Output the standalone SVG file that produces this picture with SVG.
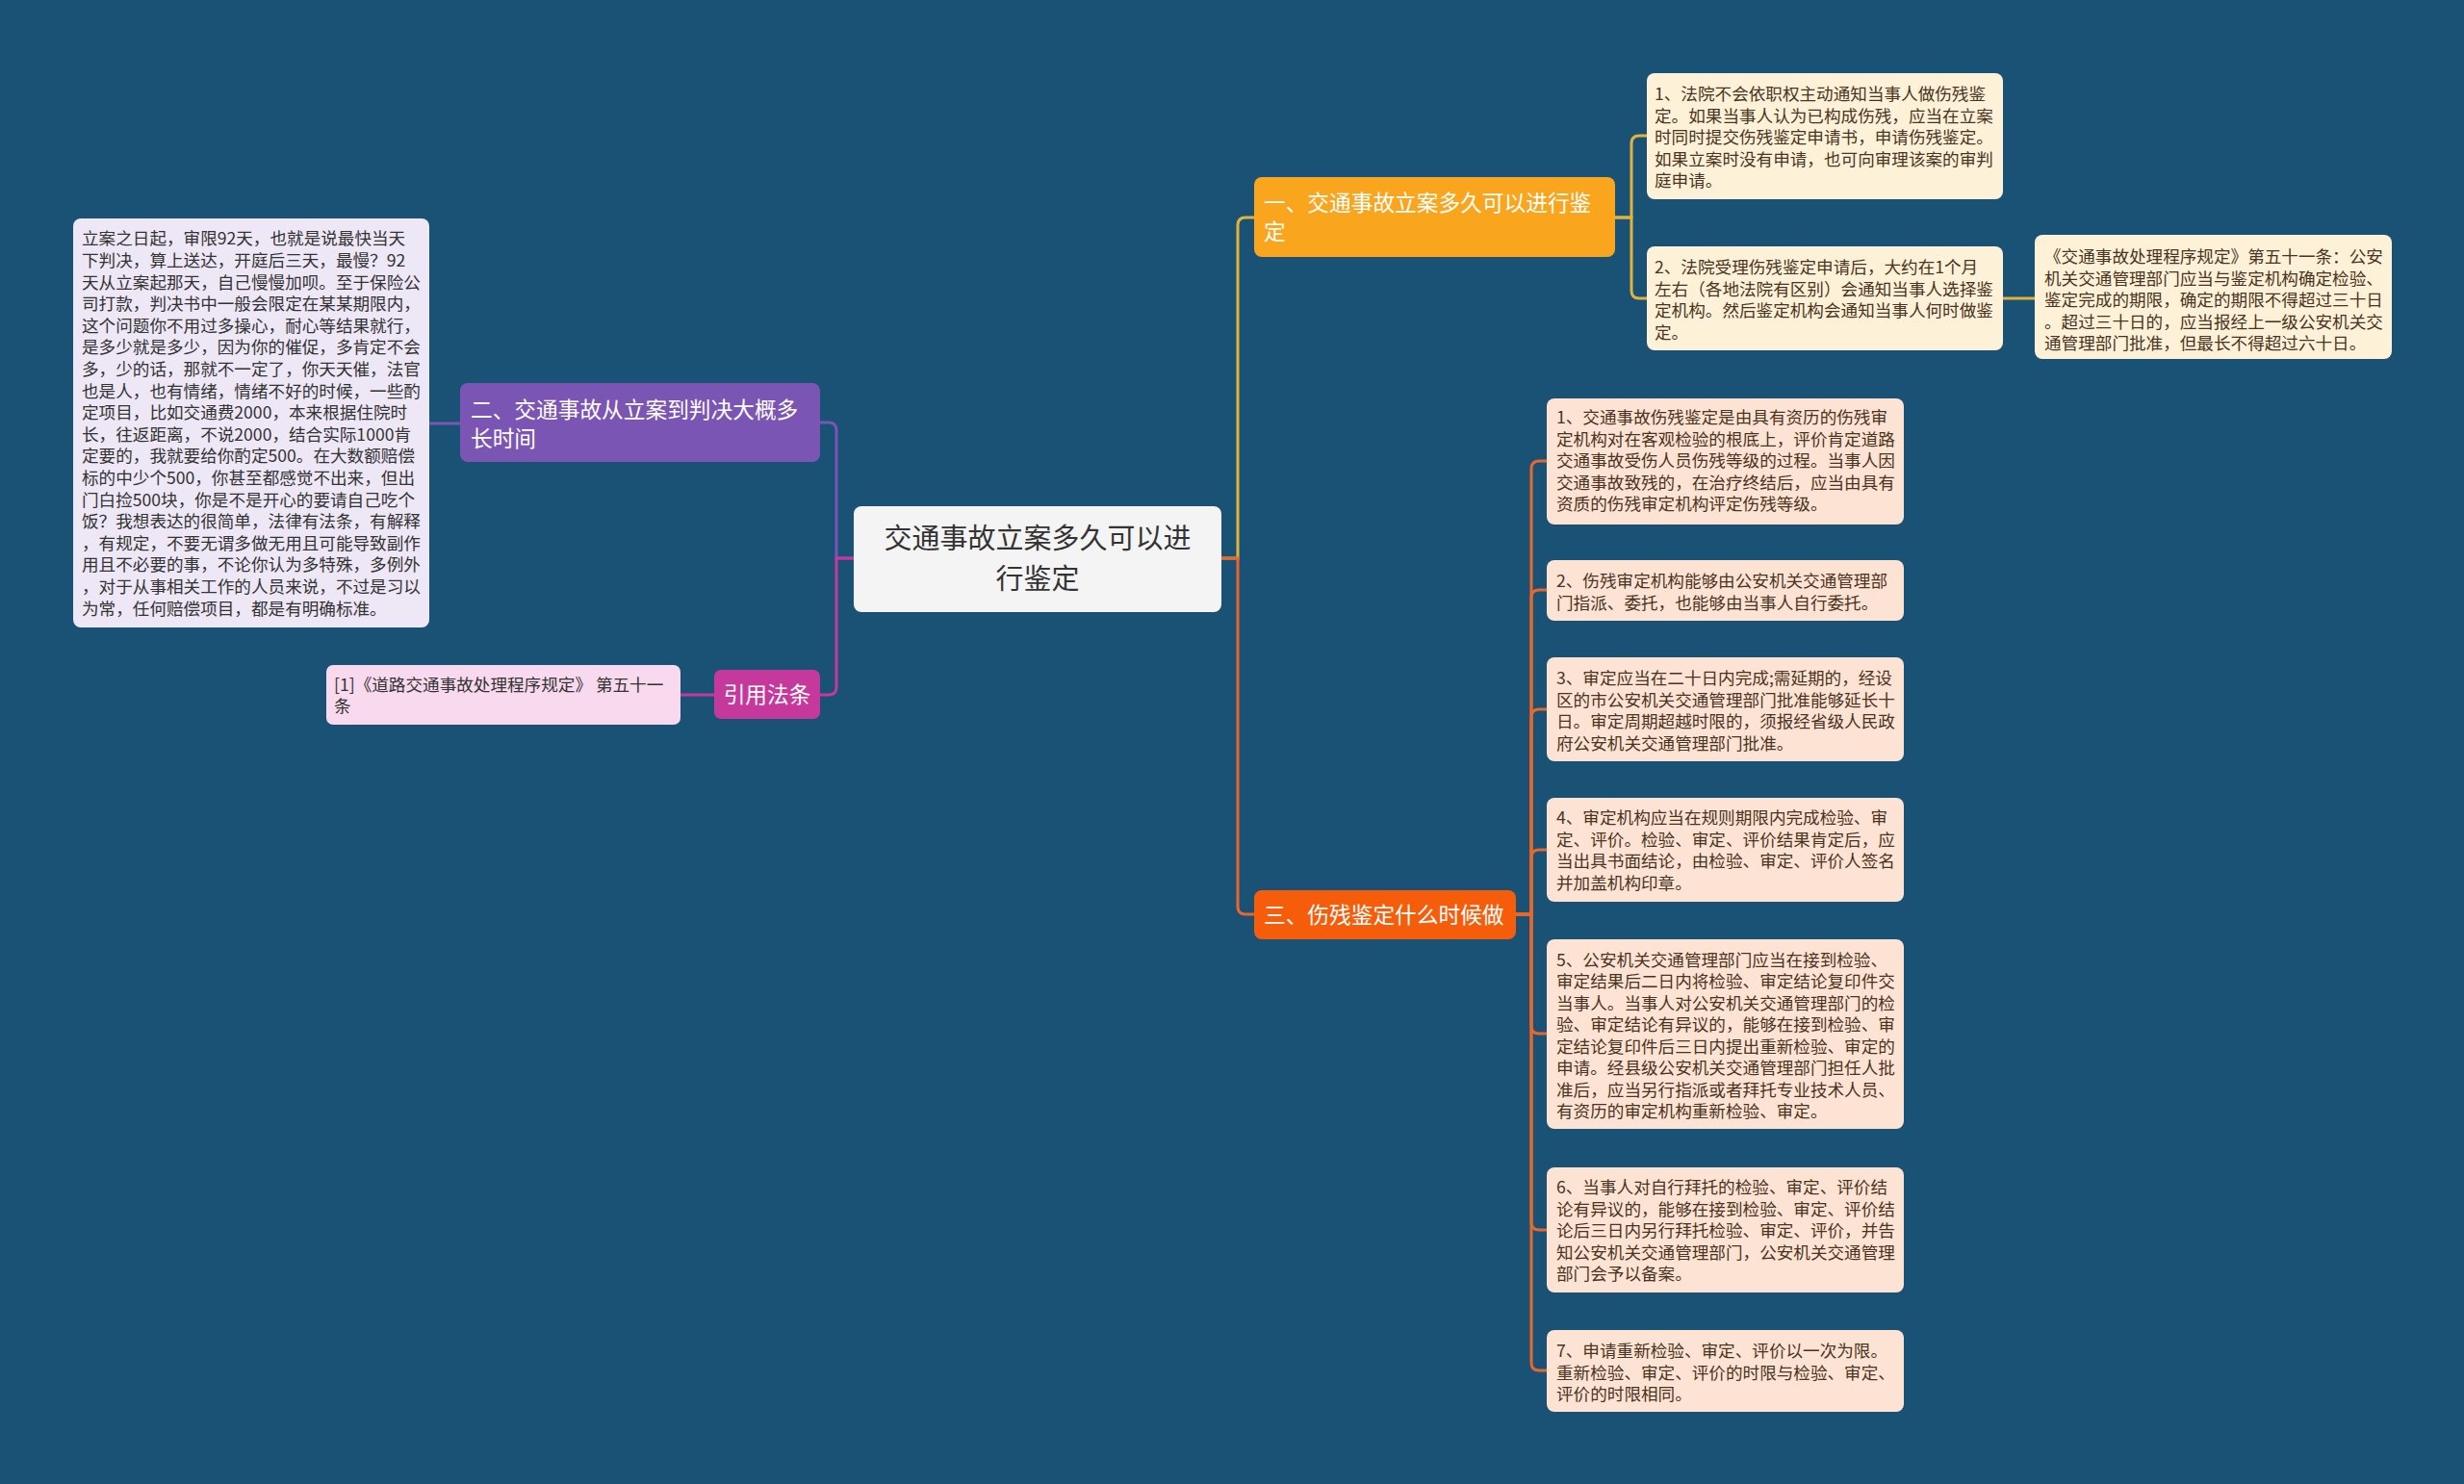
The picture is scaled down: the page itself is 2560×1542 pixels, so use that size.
<svg xmlns="http://www.w3.org/2000/svg" width="2560" height="1542" viewBox="0 0 2560 1542">
<style>
text{font-family:"Noto Sans CJK SC","Noto Sans",sans-serif;}
.s{font-size:17.6px;fill:#4a3421;}
.sl{font-size:17.6px;fill:#333;}
.b{font-size:22.7px;fill:#fff;}
.c{font-size:29px;fill:#333;}
.cn{fill:none;stroke-width:3;stroke-linecap:round;}
.gold{stroke:#e2b23c;}
.org{stroke:#e8672a;}
.pur{stroke:#7b55b3;}
.mag{stroke:#c6399c;}
</style>
<rect x="0" y="0" width="2560" height="1542" fill="#1a5276"/>
<g id="connectors">
<path class="cn pur" d="M887 580 H869 V447 Q869 439 861 439 H852"/>
<path class="cn mag" d="M887 580 H869 V714 Q869 722 861 722 H852"/>
<path class="cn pur" d="M478 440 H446"/>
<path class="cn mag" d="M742 722 H707"/>
<path class="cn gold" d="M1269 580 H1286 V234 Q1286 226 1294 226 H1303"/>
<path class="cn org" d="M1269 580 H1286 V942 Q1286 950 1294 950 H1303"/>
<path class="cn gold" d="M1678 226 H1695 V149 Q1695 141 1703 141 H1711"/>
<path class="cn gold" d="M1678 226 H1695 V302 Q1695 310 1703 310 H1711"/>
<path class="cn gold" d="M2081 310 H2114"/>
<path class="cn org" d="M1575 950 H1591 V487 Q1591 479 1599 479 H1607"/>
<path class="cn org" d="M1575 950 H1591 V621 Q1591 613 1599 613 H1607"/>
<path class="cn org" d="M1575 950 H1591 V745 Q1591 737 1599 737 H1607"/>
<path class="cn org" d="M1575 950 H1591 V891 Q1591 883 1599 883 H1607"/>
<path class="cn org" d="M1575 950 H1591 V1066 Q1591 1074 1599 1074 H1607"/>
<path class="cn org" d="M1575 950 H1591 V1270 Q1591 1278 1599 1278 H1607"/>
<path class="cn org" d="M1575 950 H1591 V1416 Q1591 1424 1599 1424 H1607"/>
</g>
<g id="center">
<rect x="887" y="526" width="382" height="110" rx="8" fill="#f4f4f4"/>
<text class="c" x="1078" y="570" text-anchor="middle">交通事故立案多久可以进</text>
<text class="c" x="1078" y="612" text-anchor="middle">行鉴定</text>
</g>
<g id="branch2">
<rect x="478" y="398" width="374" height="82" rx="8" fill="#7b55b3"/>
<text class="b" x="489" y="433.6">二、交通事故从立案到判决大概多</text>
<text class="b" x="489" y="463.6">长时间</text>
</g>
<g id="branch2-detail">
<rect x="76" y="227" width="370" height="425" rx="8" fill="#ede7f6"/>
<text class="sl" x="85" y="254.4">立案之日起，审限92天，也就是说最快当天</text>
<text class="sl" x="85" y="277">下判决，算上送达，开庭后三天，最慢？92</text>
<text class="sl" x="85" y="299.6">天从立案起那天，自己慢慢加呗。至于保险公</text>
<text class="sl" x="85" y="322.2">司打款，判决书中一般会限定在某某期限内，</text>
<text class="sl" x="85" y="344.8">这个问题你不用过多操心，耐心等结果就行，</text>
<text class="sl" x="85" y="367.4">是多少就是多少，因为你的催促，多肯定不会</text>
<text class="sl" x="85" y="390">多，少的话，那就不一定了，你天天催，法官</text>
<text class="sl" x="85" y="412.6">也是人，也有情绪，情绪不好的时候，一些酌</text>
<text class="sl" x="85" y="435.2">定项目，比如交通费2000，本来根据住院时</text>
<text class="sl" x="85" y="457.8">长，往返距离，不说2000，结合实际1000肯</text>
<text class="sl" x="85" y="480.4">定要的，我就要给你酌定500。在大数额赔偿</text>
<text class="sl" x="85" y="503">标的中少个500，你甚至都感觉不出来，但出</text>
<text class="sl" x="85" y="525.6">门白捡500块，你是不是开心的要请自己吃个</text>
<text class="sl" x="85" y="548.2">饭？我想表达的很简单，法律有法条，有解释</text>
<text class="sl" x="85" y="570.8">，有规定，不要无谓多做无用且可能导致副作</text>
<text class="sl" x="85" y="593.4">用且不必要的事，不论你认为多特殊，多例外</text>
<text class="sl" x="85" y="616">，对于从事相关工作的人员来说，不过是习以</text>
<text class="sl" x="85" y="638.6">为常，任何赔偿项目，都是有明确标准。</text>
</g>
<g id="cite">
<rect x="742" y="696" width="110" height="51" rx="7" fill="#c6399c"/>
<text class="b" x="797" y="730.3" text-anchor="middle">引用法条</text>
</g>
<g id="cite-detail">
<rect x="339" y="691" width="368" height="62" rx="7" fill="#f8d9ee"/>
<text class="sl" x="347" y="718.4">[1]《道路交通事故处理程序规定》 第五十一</text>
<text class="sl" x="347" y="739.7">条</text>
</g>
<g id="branch1">
<rect x="1303" y="184" width="375" height="83" rx="8" fill="#f9a51d"/>
<text class="b" x="1313" y="218.6">一、交通事故立案多久可以进行鉴</text>
<text class="b" x="1313" y="248.6">定</text>
</g>
<g id="b1-c1">
<rect x="1711" y="76" width="370" height="131" rx="8" fill="#fdf1d8"/>
<text class="s" x="1719" y="104">1、法院不会依职权主动通知当事人做伤残鉴</text>
<text class="s" x="1719" y="126.5">定。如果当事人认为已构成伤残，应当在立案</text>
<text class="s" x="1719" y="149">时同时提交伤残鉴定申请书，申请伤残鉴定。</text>
<text class="s" x="1719" y="171.5">如果立案时没有申请，也可向审理该案的审判</text>
<text class="s" x="1719" y="194">庭申请。</text>
</g>
<g id="b1-c2">
<rect x="1711" y="256" width="370" height="108" rx="8" fill="#fdf1d8"/>
<text class="s" x="1719" y="284">2、法院受理伤残鉴定申请后，大约在1个月</text>
<text class="s" x="1719" y="306.5">左右（各地法院有区别）会通知当事人选择鉴</text>
<text class="s" x="1719" y="329">定机构。然后鉴定机构会通知当事人何时做鉴</text>
<text class="s" x="1719" y="351.5">定。</text>
</g>
<g id="b1-c2-detail">
<rect x="2114" y="244" width="371" height="129" rx="8" fill="#fdf1d8"/>
<text class="s" x="2124" y="273">《交通事故处理程序规定》第五十一条：公安</text>
<text class="s" x="2124" y="295.5">机关交通管理部门应当与鉴定机构确定检验、</text>
<text class="s" x="2124" y="318">鉴定完成的期限，确定的期限不得超过三十日</text>
<text class="s" x="2124" y="340.5">。超过三十日的，应当报经上一级公安机关交</text>
<text class="s" x="2124" y="363">通管理部门批准，但最长不得超过六十日。</text>
</g>
<g id="branch3">
<rect x="1303" y="925" width="272" height="51" rx="8" fill="#f65d0a"/>
<text class="b" x="1313" y="958.6">三、伤残鉴定什么时候做</text>
</g>
<g id="b3-c1">
<rect x="1607" y="414" width="371" height="131" rx="8" fill="#fde3d3"/>
<text class="s" x="1617" y="440">1、交通事故伤残鉴定是由具有资历的伤残审</text>
<text class="s" x="1617" y="462.5">定机构对在客观检验的根底上，评价肯定道路</text>
<text class="s" x="1617" y="485">交通事故受伤人员伤残等级的过程。当事人因</text>
<text class="s" x="1617" y="507.5">交通事故致残的，在治疗终结后，应当由具有</text>
<text class="s" x="1617" y="530">资质的伤残审定机构评定伤残等级。</text>
</g>
<g id="b3-c2">
<rect x="1607" y="582" width="371" height="63" rx="8" fill="#fde3d3"/>
<text class="s" x="1617" y="610">2、伤残审定机构能够由公安机关交通管理部</text>
<text class="s" x="1617" y="632.5">门指派、委托，也能够由当事人自行委托。</text>
</g>
<g id="b3-c3">
<rect x="1607" y="683" width="371" height="108" rx="8" fill="#fde3d3"/>
<text class="s" x="1617" y="711">3、审定应当在二十日内完成;需延期的，经设</text>
<text class="s" x="1617" y="733.5">区的市公安机关交通管理部门批准能够延长十</text>
<text class="s" x="1617" y="756">日。审定周期超越时限的，须报经省级人民政</text>
<text class="s" x="1617" y="778.5">府公安机关交通管理部门批准。</text>
</g>
<g id="b3-c4">
<rect x="1607" y="829" width="371" height="108" rx="8" fill="#fde3d3"/>
<text class="s" x="1617" y="856">4、审定机构应当在规则期限内完成检验、审</text>
<text class="s" x="1617" y="878.5">定、评价。检验、审定、评价结果肯定后，应</text>
<text class="s" x="1617" y="901">当出具书面结论，由检验、审定、评价人签名</text>
<text class="s" x="1617" y="923.5">并加盖机构印章。</text>
</g>
<g id="b3-c5">
<rect x="1607" y="976" width="371" height="197" rx="8" fill="#fde3d3"/>
<text class="s" x="1617" y="1003.5">5、公安机关交通管理部门应当在接到检验、</text>
<text class="s" x="1617" y="1026">审定结果后二日内将检验、审定结论复印件交</text>
<text class="s" x="1617" y="1048.5">当事人。当事人对公安机关交通管理部门的检</text>
<text class="s" x="1617" y="1071">验、审定结论有异议的，能够在接到检验、审</text>
<text class="s" x="1617" y="1093.5">定结论复印件后三日内提出重新检验、审定的</text>
<text class="s" x="1617" y="1116">申请。经县级公安机关交通管理部门担任人批</text>
<text class="s" x="1617" y="1138.5">准后，应当另行指派或者拜托专业技术人员、</text>
<text class="s" x="1617" y="1161">有资历的审定机构重新检验、审定。</text>
</g>
<g id="b3-c6">
<rect x="1607" y="1213" width="371" height="130" rx="8" fill="#fde3d3"/>
<text class="s" x="1617" y="1240">6、当事人对自行拜托的检验、审定、评价结</text>
<text class="s" x="1617" y="1262.5">论有异议的，能够在接到检验、审定、评价结</text>
<text class="s" x="1617" y="1285">论后三日内另行拜托检验、审定、评价，并告</text>
<text class="s" x="1617" y="1307.5">知公安机关交通管理部门，公安机关交通管理</text>
<text class="s" x="1617" y="1330">部门会予以备案。</text>
</g>
<g id="b3-c7">
<rect x="1607" y="1382" width="371" height="85" rx="8" fill="#fde3d3"/>
<text class="s" x="1617" y="1410">7、申请重新检验、审定、评价以一次为限。</text>
<text class="s" x="1617" y="1432.5">重新检验、审定、评价的时限与检验、审定、</text>
<text class="s" x="1617" y="1455">评价的时限相同。</text>
</g>
</svg>
